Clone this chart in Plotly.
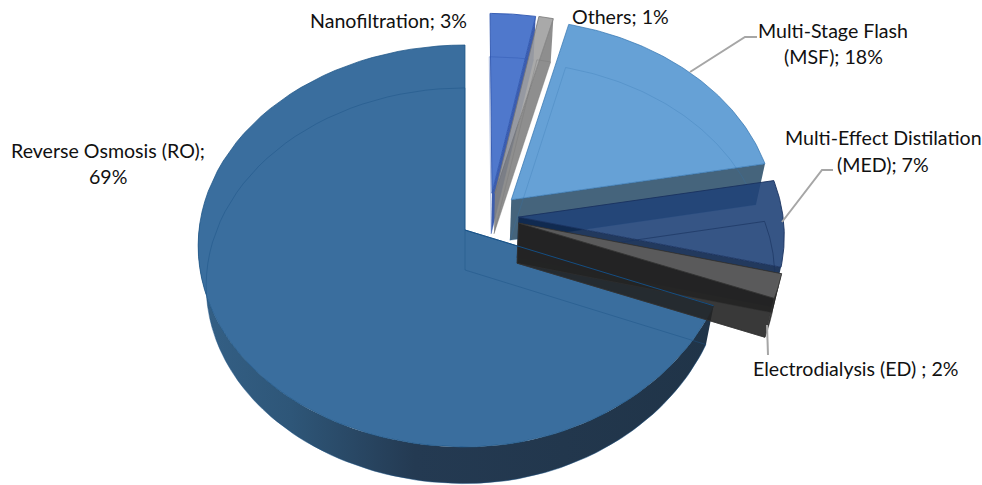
import numpy as np
import plotly.graph_objects as go

# Data, clockwise from 12 o'clock as the reference's pie is arranged
categories = ["Nanofiltration", "Others", "Multi-Stage Flash (MSF)",
              "Multi-Effect Distilation (MED)", "Electrodialysis (ED)",
              "Reverse Osmosis (RO)"]
shares = [3, 1, 18, 7, 2, 69]

# Styling / view constants
CX, CY = 465.0, 230.0
K = 0.0796
TOP = dict(R=266.0, A=199.7, y0=CY)
BOT = dict(R=258.0, A=196.6, y0=CY + 40.0)
RO_WARP = 18.0
PULL = {
    "Nanofiltration": (0.103, -0.187),
    "Others": (0.114, -0.187),
    "Multi-Stage Flash (MSF)": (0.176, -0.153),
    "Multi-Effect Distilation (MED)": (0.202, -0.065),
    "Electrodialysis (ED)": (0.202, -0.035),
    "Reverse Osmosis (RO)": (0.0, 0.0),
}
A9 = 0.9
STYLE = {
    "Nanofiltration": dict(top=(60, 105, 198), wall=(40, 75, 165), line="rgba(45,85,175,0.9)", inner="rgba(45,85,175,0.5)"),
    "Others": dict(top=(160, 160, 160), wall=(130, 130, 130), line="rgba(120,120,120,0.8)", inner="rgba(120,120,120,0.5)"),
    "Multi-Stage Flash (MSF)": dict(top=(85, 151, 210), wall=(49, 83, 110), line="rgba(50,115,175,0.7)", inner="rgba(50,115,175,0.35)"),
    "Multi-Effect Distilation (MED)": dict(top=(32, 66, 120), wall=(10, 35, 75), line="rgba(25,50,95,0.9)", inner="rgba(25,50,95,0.8)"),
    "Electrodialysis (ED)": dict(top=(96, 96, 96), wall=(35, 35, 35), line="rgba(50,50,50,0.8)", inner="rgba(50,50,50,0.6)"),
    "Reverse Osmosis (RO)": dict(top=(58, 110, 158), wall=None, line="rgba(30,85,135,0.75)", inner="rgba(30,85,135,0.6)"),
}


def rgba(c, a=A9):
    return f"rgba({c[0]},{c[1]},{c[2]},{a})"


def project(u, v, face, warp=0.0):
    u, v = np.asarray(u), np.asarray(v)
    w = 1.0 / (1.0 - K * v)
    x = CX + face["R"] * u * w - warp * np.clip(u, 0, None) * np.clip(v, 0, None)
    return x, face["y0"] + face["A"] * v * w


def arc(a0, a1, pull, n=80):
    t = np.radians(np.linspace(a0, a1, n))
    return pull[0] + np.sin(t), pull[1] - np.cos(t)


def sector(a0, a1, pull, face, warp=0.0):
    u, v = arc(a0, a1, pull)
    u = np.r_[pull[0], u, pull[0]]
    v = np.r_[pull[1], v, pull[1]]
    return project(u, v, face, warp)


def wall_edge(angle, pull):
    """Radial cut wall at one angle."""
    s, c = np.sin(np.radians(angle)), -np.cos(np.radians(angle))
    u = np.array([pull[0], pull[0] + s])
    v = np.array([pull[1], pull[1] + c])
    x0, y0 = project(u, v, TOP)
    x1, y1 = project(u, v, BOT)
    return np.r_[x0, x1[::-1], x0[0]], np.r_[y0, y1[::-1], y0[0]]


def outer_wall(a0, a1, pull, warp=0.0):
    u, v = arc(a0, a1, pull)
    x0, y0 = project(u, v, TOP, warp)
    x1, y1 = project(u, v, BOT, warp)
    return np.r_[x0, x1[::-1], x0[0]], np.r_[y0, y1[::-1], y0[0]]


fig = go.Figure()


def poly(x, y, fill=None, line=None, width=1.0, **kw):
    fig.add_trace(go.Scatter(
        x=x, y=y, mode="lines", hoverinfo="skip", showlegend=False,
        fill="toself" if fill or kw.get("fillgradient") else None,
        fillcolor=fill,
        line=dict(color=line or "rgba(0,0,0,0)", width=width), **kw))


starts = np.r_[0, np.cumsum(shares)[:-1]] * 3.6
ends = np.cumsum(shares) * 3.6
spans = {c: (s, e) for c, s, e in zip(categories, starts, ends)}

draw_order = ["Reverse Osmosis (RO)", "Nanofiltration", "Others", "Multi-Stage Flash (MSF)",
              "Multi-Effect Distilation (MED)", "Electrodialysis (ED)"]

for name in draw_order:
    a0, a1 = spans[name]
    pull, st = PULL[name], STYLE[name]
    warp = RO_WARP if name == "Reverse Osmosis (RO)" else 0.0
    if name == "Reverse Osmosis (RO)":
        # visible rim: from the right cut round the bottom to the left side
        x, y = outer_wall(a0, 272, pull, warp)
        poly(x, y, fillgradient=dict(type="horizontal", colorscale=[
            [0.0, "rgb(52,96,134)"], [0.18, "rgb(46,86,120)"],
            [0.42, "rgb(36,58,82)"], [1.0, "rgb(32,52,72)"]]))
        x, y = sector(a0, a1, pull, TOP, warp)
        poly(x, y, rgba(st["top"], 1.0), st["line"], 1.0)
    else:
        if name == "Electrodialysis (ED)":
            x, y = wall_edge(a0, pull)
            poly(x, y, rgba(st["wall"]))
            x, y = outer_wall(a0, a1, pull)
            poly(x, y, rgba(st["wall"]))
        x, y = wall_edge(a1, pull)
        poly(x, y, rgba(st["wall"]), st["line"] if name == "Electrodialysis (ED)" else None)
        x, y = sector(a0, a1, pull, TOP)
        poly(x, y, rgba(st["top"]), st["line"], 1.0)
    # bottom-face outline, seen through the top face
    x, y = sector(a0, a1, pull, BOT, warp)
    poly(x, y, None, st["inner"], 0.8)

# The RO cut edge stays visible across the dark ED wall
a0, _ = spans["Reverse Osmosis (RO)"]
x, y = sector(a0, a0, PULL["Reverse Osmosis (RO)"], TOP, RO_WARP)
poly(x[:2], y[:2], None, "rgba(20,80,135,0.95)", 1.0)

LEADER = "#A6A6A6"
shapes = [
    dict(type="path", path="M 690 72 L 745 37 L 757 37", line=dict(color=LEADER, width=2)),
    dict(type="path", path="M 782 222 L 822 170 L 833 170", line=dict(color=LEADER, width=2)),
    dict(type="path", path="M 767 325 L 768 355", line=dict(color=LEADER, width=2)),
]

label_lines = [
    ("Reverse Osmosis (RO);", 108, 150), ("69%", 108, 176),
    ("Nanofiltration; 3%", 388, 20),
    ("Others; 1%", 620, 16),
    ("Multi-Stage Flash", 833, 30), ("(MSF); 18%", 833, 56),
    ("Multi-Effect Distilation", 883, 137), ("(MED); 7%", 883, 164),
    ("Electrodialysis (ED) ; 2%", 856, 368),
]
annotations = [dict(x=x, y=y, text=t, showarrow=False, xanchor="center", yanchor="middle",
                    font=dict(family="Lato", size=19.6, color="#111111"))
               for t, x, y in label_lines]

fig.update_layout(
    width=982, height=485, autosize=False,
    margin=dict(l=0, r=0, t=0, b=0),
    paper_bgcolor="white", plot_bgcolor="white", showlegend=False,
    xaxis=dict(range=[0, 982], visible=False, fixedrange=True),
    yaxis=dict(range=[485, 0], visible=False, fixedrange=True),
    shapes=shapes, annotations=annotations,
)
fig.write_html("out.html", post_script="document.body.style.margin='0';document.body.style.overflow='hidden';",
               config={"displayModeBar": False})
